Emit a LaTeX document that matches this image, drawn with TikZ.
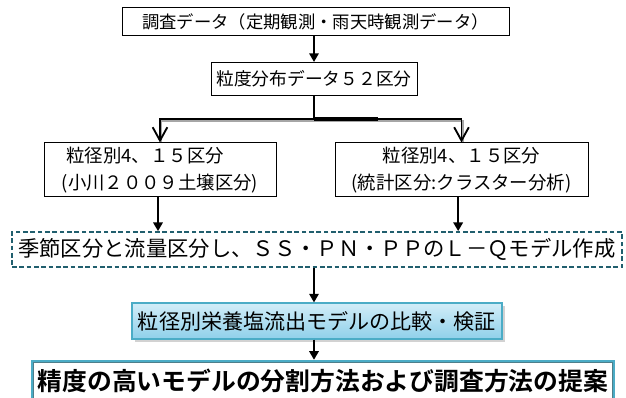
\documentclass[tikz,border=0pt]{standalone}
\usepackage{fontspec}
\setmainfont{Noto Sans CJK JP}[BoldFont={Noto Sans CJK JP Bold}]
\usetikzlibrary{arrows.meta,shadows}
\definecolor{tealdash}{HTML}{215F6E}
\definecolor{bluebord}{HTML}{4BACC6}
\definecolor{bluetop}{HTML}{D2EDF8}
\definecolor{bluebot}{HTML}{8FD0EA}
\begin{document}
\begin{tikzpicture}[x=0.75pt,y=-0.75pt,
  plainbox/.style={draw=black, line width=0.75pt, fill=white, inner sep=0pt, align=center},
  dashbox/.style={draw=tealdash, line width=1.3pt, dash pattern=on 3.5pt off 2pt, inner sep=0pt},
  bluebox/.style={draw=bluebord, line width=0.8pt, top color=bluetop, bottom color=bluebot,
     drop shadow={shadow xshift=2pt, shadow yshift=-2pt, opacity=0.35}, inner sep=0pt},
  finalbox/.style={draw=bluebord, line width=1.8pt, fill=white, inner sep=0pt},
  arr/.style={-{Triangle[length=6.5pt,width=7pt]}, line width=1.6pt, black},
  splitarr/.style={-{Straight Barb[length=10pt,width=11pt]}, line width=1.4pt, black},
  splitshade/.style={line width=1.4pt, black!35}]
\useasboundingbox (0,0) rectangle (626,398);
\clip (0,0) rectangle (626,398);
\fill[white] (0,0) rectangle (626,398);

\node[plainbox, minimum width=387*0.75pt, minimum height=28*0.75pt, font=\fontsize{13}{15}\selectfont]
  (top) at (315.5,22) {調査データ（定期観測・雨天時観測データ）};
\node[plainbox, minimum width=206*0.75pt, minimum height=33*0.75pt, font=\fontsize{13.3}{15}\selectfont]
  (b2) at (314,79) {粒度分布データ５２区分};
\node[plainbox, minimum width=232*0.75pt, minimum height=54*0.75pt, font=\fontsize{13.8}{20}\selectfont]
  (b3l) at (160,170) {粒径別4、１５区分\hspace*{1.6em}\\(小川２００９土壌区分)};
\node[plainbox, minimum width=253*0.75pt, minimum height=54*0.75pt, font=\fontsize{13.8}{20}\selectfont]
  (b3r) at (461.5,170) {粒径別4、１５区分\\(統計区分:クラスター分析)};
\node[dashbox, minimum width=610*0.75pt, minimum height=35*0.75pt, font=\fontsize{16}{18}\selectfont]
  (dash) at (317,249.5) {季節区分と流量区分し、ＳＳ・ＰＮ・ＰＰのＬ－Ｑモデル作成};
\node[bluebox, minimum width=370*0.75pt, minimum height=36*0.75pt, font=\fontsize{15.8}{18}\selectfont]
  (blue) at (317,321) {粒径別栄養塩流出モデルの比較・検証};
\node[finalbox, minimum width=582*0.75pt, minimum height=40*0.75pt, font=\fontsize{18.6}{21}\selectfont\bfseries]
  (fin) at (323,381) {精度の高いモデルの分割方法および調査方法の提案};
\draw[tealdash!80, line width=0.5pt] ([shift={(2.5,2.5)}]fin.north west) rectangle ([shift={(-2.5,-2.5)}]fin.south east);

% connectors
\coordinate (fork) at (314,119);
\draw[arr] (b2.north |- top.south) -- (b2.north);
\draw[line width=1.6pt] (b2.south) -- (fork);
\draw[splitshade] ([shift={(1.5,2.2)}]fork) -| ([shift={(1.5,0)}]b3l.north);
\draw[splitshade] ([shift={(1.5,2.2)}]fork) -| ([shift={(1.5,0)}]b3r.north);
\draw[splitarr] (fork) -| (b3l.north);
\draw[splitarr] (fork) -| (b3r.north);
\draw[line width=3pt] (fork) -- ++(64,0);
\draw[arr] ([xshift=-1.5pt]b3l.south) -- ([xshift=-1.5pt]b3l.south |- dash.north);
\draw[arr] ([xshift=-2.5pt]b3r.south) -- ([xshift=-2.5pt]b3r.south |- dash.north);
\draw[arr] (dash.south -| fork) -- (blue.north -| fork);
\draw[arr] (blue.south -| fork) -- (fin.north -| fork);
\end{tikzpicture}
\end{document}
